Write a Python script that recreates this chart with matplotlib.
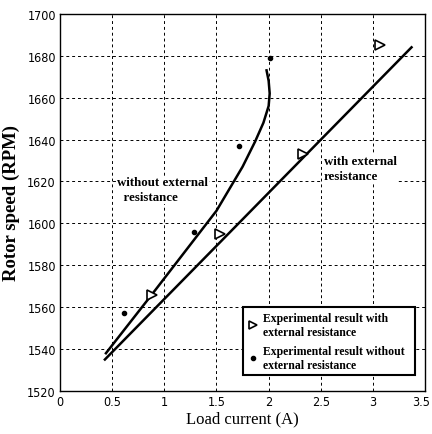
import matplotlib
matplotlib.use("Agg")
import matplotlib.pyplot as plt
import matplotlib.transforms as mtransforms
from matplotlib.lines import Line2D

# data
# model curve with external resistance (straight line)
with_x = [0.43, 3.37]
with_y = [1535, 1684]
# model curve without external resistance (bends up near 2 A)
without_x = [0.44, 0.88, 1.5, 1.75, 1.87, 1.95, 2.0, 2.01, 2.0, 1.98]
without_y = [1538, 1566, 1606, 1627, 1639, 1648, 1656, 1662, 1668, 1673]
# experimental points
exp_with_x = [0.88, 1.53, 2.33, 3.07]
exp_with_y = [1566, 1595, 1633, 1685]
exp_without_x = [0.61, 1.28, 1.72, 2.01]
exp_without_y = [1557, 1596, 1637, 1679]

xticks = [0, 0.5, 1, 1.5, 2, 2.5, 3, 3.5]
xticklabels = ["0", "0.5", "1", "1.5", "2", "2.5", "3", "3.5"]
yticks = [1520, 1540, 1560, 1580, 1600, 1620, 1640, 1660, 1680, 1700]

serif = "Liberation Serif"

fig = plt.figure(figsize=(4.32, 4.35), dpi=100)
ax = fig.add_axes([0.139, 0.099, 0.845, 0.867])

ax.plot(with_x, with_y, color="black", lw=1.8, zorder=3)
ax.plot(without_x, without_y, color="black", lw=1.8, zorder=3)
ax.plot(exp_with_x, exp_with_y, ls="none", marker=">", mfc="white", mec="black",
        mew=1.2, ms=7, zorder=4)
ax.plot(exp_without_x, exp_without_y, ls="none", marker="o", color="black", ms=3, zorder=4)

ax.set_xlim(0, 3.5)
ax.set_ylim(1520, 1700)
ax.set_xticks(xticks)
ax.set_xticklabels(xticklabels)
ax.set_yticks(yticks)
ax.tick_params(length=0, labelsize=9, pad=3)
for lab in ax.get_xticklabels() + ax.get_yticklabels():
    lab.set_family("DejaVu Sans")
    lab.set_stretch("condensed")
# last x label sits at the figure edge, nudge it in a little
last = ax.get_xticklabels()[-1]
last.set_transform(last.get_transform() + mtransforms.ScaledTranslation(-4 / 100, 0, fig.dpi_scale_trans))
ax.grid(True, color="black", ls=(0, (3, 3)), lw=0.7)
for s in ax.spines.values():
    s.set_linewidth(1.0)

ax.set_xlabel("Load current (A)", family=serif, fontsize=12, labelpad=2)
ax.set_ylabel("Rotor speed (RPM)", family=serif, fontsize=13.5, fontweight="bold")
ax.yaxis.set_label_coords(-0.11, 0.5)

ax.text(0.55, 1616, "without external\n  resistance", family=serif, fontsize=9.3,
        fontweight="bold", ha="left", va="center", linespacing=1.3,
        bbox=dict(facecolor="white", edgecolor="none", pad=0.5), zorder=2)
ax.text(2.53, 1626, "with external\nresistance", family=serif, fontsize=9.3,
        fontweight="bold", ha="left", va="center", linespacing=1.3,
        bbox=dict(facecolor="white", edgecolor="none", pad=0.5), zorder=2)

handles = [
    Line2D([], [], ls="none", marker=">", mfc="white", mec="black", mew=1.2, ms=6),
    Line2D([], [], ls="none", marker="o", color="black", ms=3),
]
leg = ax.legend(handles, ["Experimental result with\nexternal resistance",
                          "Experimental result without\nexternal resistance"],
                loc="lower left", bbox_to_anchor=(0.502, 0.041, 0.471, 0.247),
                mode="expand", fancybox=False, framealpha=1, edgecolor="black",
                handlelength=0.8, handletextpad=0.5, borderaxespad=0,
                prop=dict(family=serif, size=8.5, weight="bold"), labelspacing=0.6)
leg.get_frame().set_linewidth(1.5)

fig.savefig("out.png", dpi=100)
